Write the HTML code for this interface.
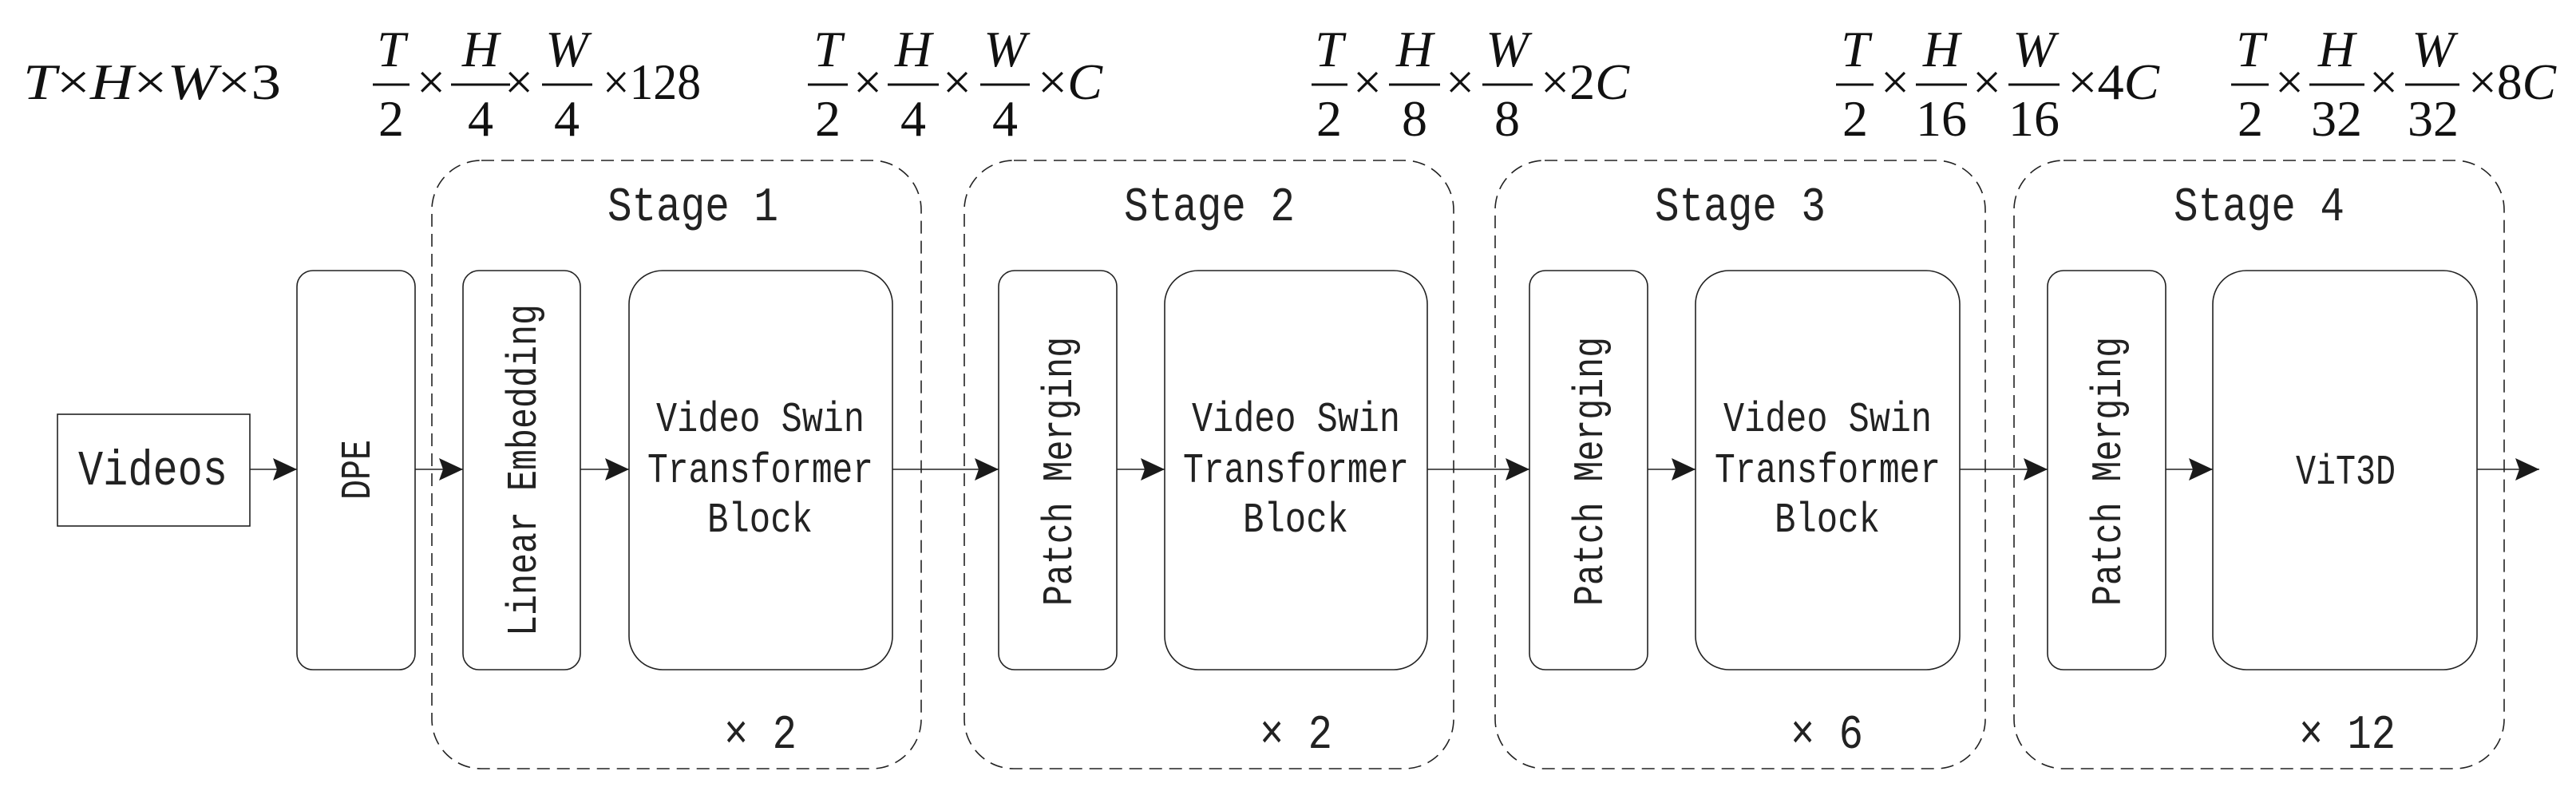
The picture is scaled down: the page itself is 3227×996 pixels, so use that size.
<!DOCTYPE html>
<html><head><meta charset="utf-8"><style>html,body{margin:0;padding:0;background:#fff}svg{display:block}</style></head>
<body>
<svg width="3227" height="996" viewBox="0 0 3227 996" xmlns="http://www.w3.org/2000/svg">
<defs>
<marker id="ah" markerWidth="32" markerHeight="28" refX="30" refY="14" orient="auto" markerUnits="userSpaceOnUse">
<path d="M0,0 L30,14 L0,28 L5,14 Z" fill="#1a1a1a"/>
</marker>
</defs>
<g fill="none" stroke="#222" stroke-width="1.6">
<g stroke-dasharray="16 9">
<rect x="541" y="201" width="613" height="762" rx="62"/>
<rect x="1208" y="201" width="613" height="762" rx="62"/>
<rect x="1873" y="201" width="614" height="762" rx="62"/>
<rect x="2523" y="201" width="614" height="762" rx="62"/>
</g>
<rect x="72" y="519" width="241" height="140"/>
<rect x="372" y="339" width="148" height="500" rx="20"/>
<rect x="580" y="339" width="147" height="500" rx="20"/>
<rect x="788" y="339" width="330" height="500" rx="42"/>
<rect x="1251" y="339" width="148" height="500" rx="20"/>
<rect x="1459" y="339" width="329" height="500" rx="42"/>
<rect x="1916" y="339" width="148" height="500" rx="20"/>
<rect x="2124" y="339" width="331" height="500" rx="42"/>
<rect x="2565" y="339" width="148" height="500" rx="20"/>
<rect x="2772" y="339" width="331" height="500" rx="42"/>
</g>
<g stroke="#222" stroke-width="1.6" marker-end="url(#ah)">
<line x1="313" y1="588" x2="372" y2="588"/>
<line x1="520" y1="588" x2="580" y2="588"/>
<line x1="727" y1="588" x2="788" y2="588"/>
<line x1="1118" y1="588" x2="1251" y2="588"/>
<line x1="1399" y1="588" x2="1459" y2="588"/>
<line x1="1788" y1="588" x2="1916" y2="588"/>
<line x1="2064" y1="588" x2="2124" y2="588"/>
<line x1="2455" y1="588" x2="2565" y2="588"/>
<line x1="2713" y1="588" x2="2772" y2="588"/>
<line x1="3103" y1="588" x2="3181" y2="588"/>
</g>
<g font-family="'Liberation Mono', monospace" fill="#222" font-size="56">
<text x="98" y="607" font-size="62" textLength="187" lengthAdjust="spacingAndGlyphs">Videos</text>
<text x="761" y="276" font-size="60" textLength="214" lengthAdjust="spacingAndGlyphs">Stage 1</text>
<text x="1408" y="276" font-size="60" textLength="214" lengthAdjust="spacingAndGlyphs">Stage 2</text>
<text x="2073" y="276" font-size="60" textLength="214" lengthAdjust="spacingAndGlyphs">Stage 3</text>
<text x="2723" y="276" font-size="60" textLength="214" lengthAdjust="spacingAndGlyphs">Stage 4</text>
<g font-size="53">
<text x="822" y="540" textLength="261" lengthAdjust="spacingAndGlyphs">Video Swin</text>
<text x="811" y="604" textLength="283" lengthAdjust="spacingAndGlyphs">Transformer</text>
<text x="886" y="666" textLength="132" lengthAdjust="spacingAndGlyphs">Block</text>
<text x="1493" y="540" textLength="261" lengthAdjust="spacingAndGlyphs">Video Swin</text>
<text x="1482" y="604" textLength="283" lengthAdjust="spacingAndGlyphs">Transformer</text>
<text x="1557" y="666" textLength="132" lengthAdjust="spacingAndGlyphs">Block</text>
<text x="2159" y="540" textLength="261" lengthAdjust="spacingAndGlyphs">Video Swin</text>
<text x="2148" y="604" textLength="283" lengthAdjust="spacingAndGlyphs">Transformer</text>
<text x="2223" y="666" textLength="132" lengthAdjust="spacingAndGlyphs">Block</text>
<text x="2876" y="606" textLength="125" lengthAdjust="spacingAndGlyphs">ViT3D</text>
<text transform="translate(463,626) rotate(-90)" textLength="75" lengthAdjust="spacingAndGlyphs">DPE</text>
<text transform="translate(671,797) rotate(-90)" textLength="416" lengthAdjust="spacingAndGlyphs">Linear Embedding</text>
<text transform="translate(1342,759) rotate(-90)" textLength="337" lengthAdjust="spacingAndGlyphs">Patch Merging</text>
<text transform="translate(2007,759) rotate(-90)" textLength="337" lengthAdjust="spacingAndGlyphs">Patch Merging</text>
<text transform="translate(2656,759) rotate(-90)" textLength="337" lengthAdjust="spacingAndGlyphs">Patch Merging</text>
</g>
<g font-size="60">
<text x="907" y="937" textLength="91" lengthAdjust="spacingAndGlyphs">× 2</text>
<text x="1578" y="937" textLength="91" lengthAdjust="spacingAndGlyphs">× 2</text>
<text x="2243" y="937" textLength="91" lengthAdjust="spacingAndGlyphs">× 6</text>
<text x="2880" y="937" textLength="121" lengthAdjust="spacingAndGlyphs">× 12</text>
</g>
</g>
<g font-family="'Liberation Serif', serif" font-size="64" fill="#111" text-anchor="middle">
<text x="29" y="124" text-anchor="start" textLength="323" lengthAdjust="spacingAndGlyphs"><tspan font-style="italic">T</tspan>×<tspan font-style="italic">H</tspan>×<tspan font-style="italic">W</tspan>×3</text>
<g stroke="#111" stroke-width="3">
<line x1="467" y1="106" x2="513" y2="106"/><line x1="565" y1="106" x2="639" y2="106"/><line x1="679" y1="106" x2="742" y2="106"/>
<line x1="1012" y1="106" x2="1062" y2="106"/><line x1="1112" y1="106" x2="1176" y2="106"/><line x1="1228" y1="106" x2="1290" y2="106"/>
<line x1="1643" y1="106" x2="1688" y2="106"/><line x1="1740" y1="106" x2="1804" y2="106"/><line x1="1857" y1="106" x2="1920" y2="106"/>
<line x1="2300" y1="106" x2="2347" y2="106"/><line x1="2400" y1="106" x2="2464" y2="106"/><line x1="2516" y1="106" x2="2580" y2="106"/>
<line x1="2795" y1="106" x2="2842" y2="106"/><line x1="2893" y1="106" x2="2962" y2="106"/><line x1="3013" y1="106" x2="3081" y2="106"/>
</g>
<g font-style="italic">
<text x="490" y="83">T</text><text x="602" y="83">H</text><text x="710" y="83">W</text>
<text x="1037" y="83">T</text><text x="1144" y="83">H</text><text x="1259" y="83">W</text>
<text x="1665" y="83">T</text><text x="1772" y="83">H</text><text x="1888" y="83">W</text>
<text x="2324" y="83">T</text><text x="2432" y="83">H</text><text x="2548" y="83">W</text>
<text x="2819" y="83">T</text><text x="2927" y="83">H</text><text x="3048" y="83">W</text>
</g>
<text x="490" y="170">2</text><text x="602" y="170">4</text><text x="710" y="170">4</text>
<text x="1037" y="170">2</text><text x="1144" y="170">4</text><text x="1259" y="170">4</text>
<text x="1665" y="170">2</text><text x="1772" y="170">8</text><text x="1888" y="170">8</text>
<text x="2324" y="170">2</text><text x="2432" y="170">16</text><text x="2548" y="170">16</text>
<text x="2819" y="170">2</text><text x="2927" y="170">32</text><text x="3048" y="170">32</text>
<text x="540" y="124">×</text><text x="650" y="124">×</text>
<text x="1087" y="124">×</text><text x="1199" y="124">×</text>
<text x="1713" y="124">×</text><text x="1829" y="124">×</text>
<text x="2374" y="124">×</text><text x="2489" y="124">×</text>
<text x="2868" y="124">×</text><text x="2986" y="124">×</text>
<text x="755" y="124" text-anchor="start" textLength="123" lengthAdjust="spacingAndGlyphs">×128</text>
<text x="1300" y="124" text-anchor="start" textLength="81" lengthAdjust="spacingAndGlyphs">×<tspan font-style="italic">C</tspan></text>
<text x="1930" y="124" text-anchor="start" textLength="111" lengthAdjust="spacingAndGlyphs">×2<tspan font-style="italic">C</tspan></text>
<text x="2590" y="124" text-anchor="start" textLength="115" lengthAdjust="spacingAndGlyphs">×4<tspan font-style="italic">C</tspan></text>
<text x="3092" y="124" text-anchor="start" textLength="110" lengthAdjust="spacingAndGlyphs">×8<tspan font-style="italic">C</tspan></text>
</g>
</svg>
</body></html>
